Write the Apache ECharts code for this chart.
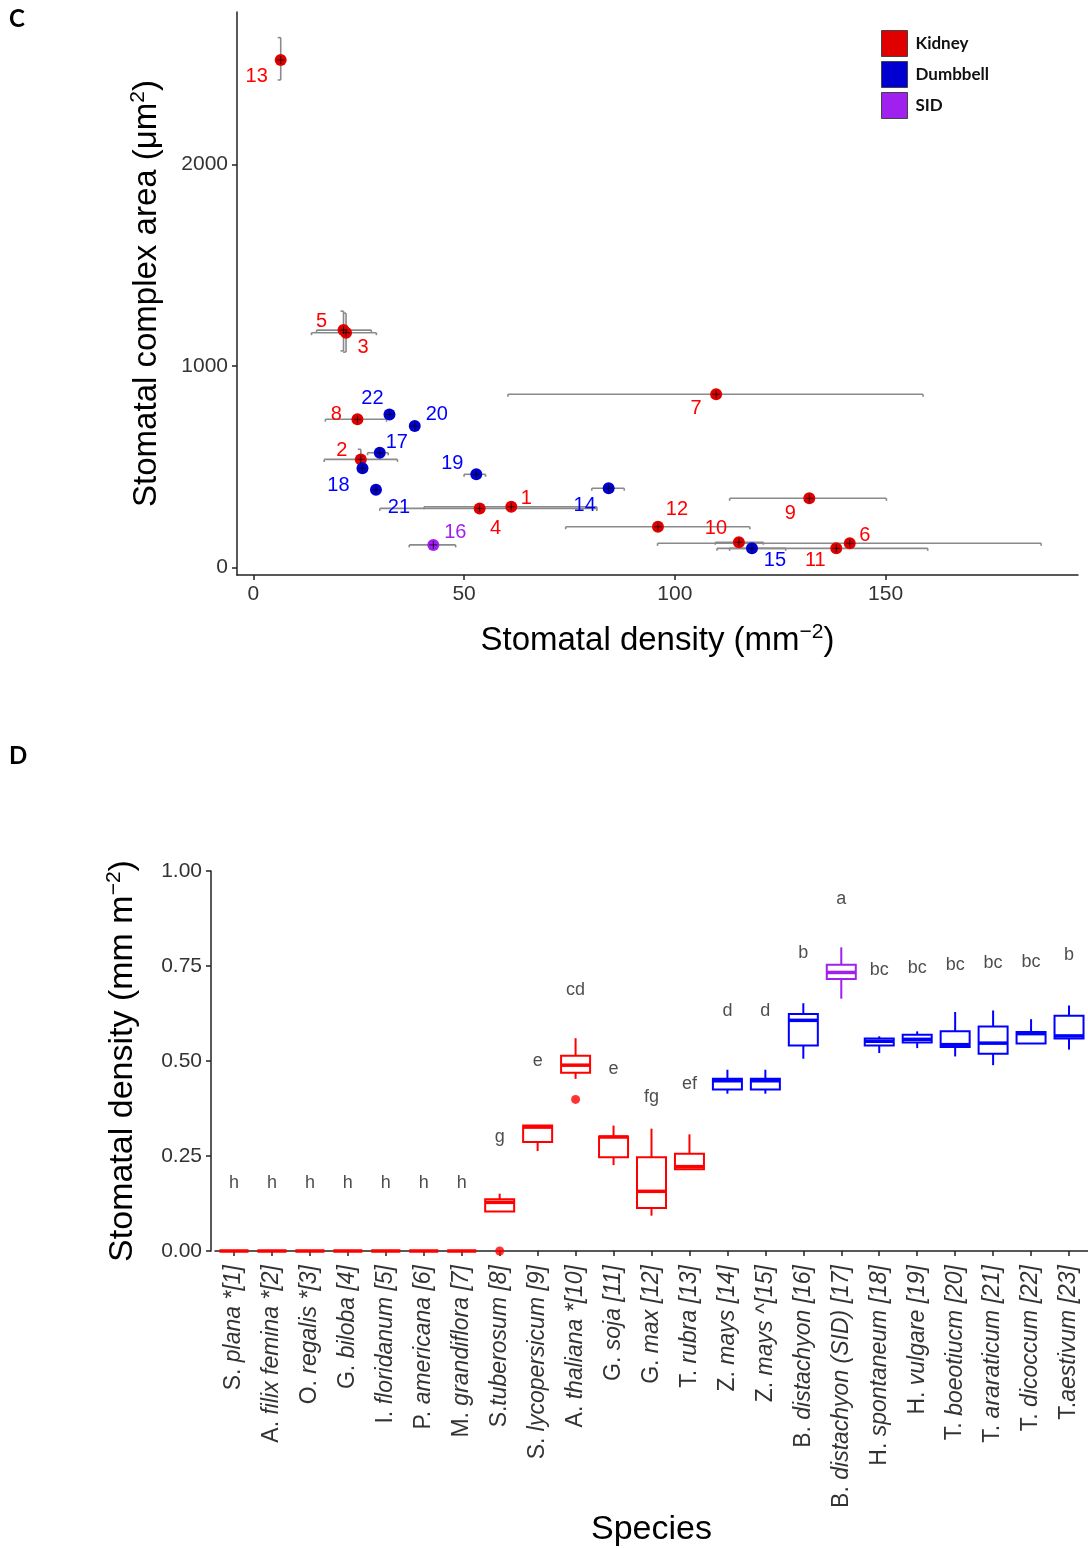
<!DOCTYPE html>
<html>
<head>
<meta charset="utf-8">
<script src="https://cdn.jsdelivr.net/npm/echarts@6/dist/echarts.min.js"></script>
<style>
html, body { margin: 0; padding: 0; background: #ffffff; }
#chart { width: 1088px; height: 1548px; }
</style>
</head>
<body>
<div id="chart"></div>
<script>
// ---------- Panel C: complex area vs stomatal density (mean ± range) ----------
const speciesIds   = [1, 2, 3, 4, 5, 6, 7, 8, 9, 10, 11, 12, 13, 14, 15, 16, 17, 18, 19, 20, 21, 22];
const stomataType  = ['Kidney', 'Kidney', 'Kidney', 'Kidney', 'Kidney', 'Kidney', 'Kidney', 'Kidney',
                      'Kidney', 'Kidney', 'Kidney', 'Kidney', 'Kidney', 'Dumbbell', 'Dumbbell', 'SID',
                      'Dumbbell', 'Dumbbell', 'Dumbbell', 'Dumbbell', 'Dumbbell', 'Dumbbell'];
const densityMean  = [61.2, 25.5, 22.0, 53.7, 21.4, 141.5, 109.8, 24.7, 131.9, 115.2, 138.3, 96.0,
                      6.5, 84.3, 118.3, 42.7, 30.0, 25.9, 52.9, 38.3, 29.1, 32.3];
const areaMean     = [302, 537, 1165, 294, 1178, 121, 860, 736, 344, 126, 96, 203,
                      2517, 394, 96, 113, 570, 493, 463, 702, 386, 760];
const densityLow   = [40.5, 16.8, 13.8, 30.0, 15.0, 95.9, 60.4, 17.1, 113.0, 109.6, 110.0, 74.1,
                      null, 80.3, 113.0, 37.0, 27.1, null, 50.0, null, null, null];
const densityHigh  = [81.5, 34.2, 29.2, 81.5, 28.0, 186.9, 158.9, 31.6, 150.2, 121.0, 160.0, 117.8,
                      null, 88.0, 126.3, 48.0, 32.0, null, 55.1, null, null, null];
const areaLow      = [null, 487, 1069, null, 1075, null, null, null, null, null, null, null,
                      2418, null, null, null, null, null, null, null, null, null];
const areaHigh     = [null, 587, 1262, null, 1272, null, null, null, null, null, null, null,
                      2628, null, null, null, null, null, null, null, null, null];
const densityTicks = [0, 50, 100, 150];
const areaTicks    = [0, 1000, 2000];

// ---------- Panel D: stomatal density per species (box summaries) ----------
const speciesNames = ['S. plana *[1]', 'A. filix femina *[2]', 'O. regalis *[3]', 'G. biloba [4]',
  'I. floridanum [5]', 'P. americana [6]', 'M. grandiflora [7]', 'S.tuberosum [8]',
  'S. lycopersicum [9]', 'A. thaliana *[10]', 'G. soja [11]', 'G. max [12]', 'T. rubra [13]',
  'Z. mays [14]', 'Z. mays ^[15]', 'B. distachyon [16]', 'B. distachyon (SID) [17]',
  'H. spontaneum [18]', 'H. vulgare [19]', 'T. boeotiucm [20]', 'T. araraticum [21]',
  'T. dicoccum [22]', 'T.aestivum [23]'];
const speciesType  = ['Kidney', 'Kidney', 'Kidney', 'Kidney', 'Kidney', 'Kidney', 'Kidney', 'Kidney',
  'Kidney', 'Kidney', 'Kidney', 'Kidney', 'Kidney', 'Dumbbell', 'Dumbbell', 'Dumbbell', 'SID',
  'Dumbbell', 'Dumbbell', 'Dumbbell', 'Dumbbell', 'Dumbbell', 'Dumbbell'];
const whiskerLow   = [0, 0, 0, 0, 0, 0, 0, 0.104, 0.263, 0.453, 0.226, 0.093, 0.215,
                      0.414, 0.414, 0.506, 0.664, 0.521, 0.534, 0.512, 0.489, 0.546, 0.530];
const quartile1    = [0, 0, 0, 0, 0, 0, 0, 0.104, 0.287, 0.469, 0.247, 0.113, 0.215,
                      0.425, 0.425, 0.541, 0.716, 0.541, 0.549, 0.537, 0.519, 0.546, 0.559];
const medianValue  = [0, 0, 0, 0, 0, 0, 0, 0.128, 0.326, 0.489, 0.300, 0.157, 0.222,
                      0.448, 0.448, 0.607, 0.733, 0.552, 0.557, 0.543, 0.547, 0.572, 0.566];
const quartile3    = [0, 0, 0, 0, 0, 0, 0, 0.136, 0.330, 0.514, 0.301, 0.247, 0.256,
                      0.453, 0.453, 0.624, 0.753, 0.559, 0.569, 0.578, 0.591, 0.576, 0.619];
const whiskerHigh  = [0, 0, 0, 0, 0, 0, 0, 0.151, 0.330, 0.560, 0.330, 0.322, 0.307,
                      0.477, 0.477, 0.652, 0.799, 0.565, 0.578, 0.629, 0.633, 0.610, 0.646];
const outlierIndex = [7, 9];
const outlierValue = [0.0, 0.399];
const groupLetters = ['h', 'h', 'h', 'h', 'h', 'h', 'h', 'g', 'e', 'cd', 'e', 'fg', 'ef',
                      'd', 'd', 'b', 'a', 'bc', 'bc', 'bc', 'bc', 'bc', 'b'];
const letterHeight = [0.178, 0.178, 0.178, 0.178, 0.178, 0.178, 0.178, 0.30, 0.50, 0.687, 0.48,
                      0.406, 0.44, 0.632, 0.632, 0.784, 0.926, 0.74, 0.745, 0.752, 0.757, 0.76, 0.778];

// ---------- styling ----------
const typeColor = { Kidney: '#FF0000', Dumbbell: '#0000FF', SID: '#A020F0' };
const pointColor = { Kidney: '#E00000', Dumbbell: '#0000D0', SID: '#A020F0' };
const labelNudge = {
  1: [15, -8], 2: [-19, -9], 3: [17, 15], 4: [16, 20], 5: [-22, -9], 6: [15, -8],
  7: [-20, 14], 8: [-21, -5], 9: [-19, 15], 10: [-23, -14], 11: [-21, 12], 12: [19, -17],
  13: [-24, 16], 14: [-24, 17], 15: [23, 12], 16: [22, -12], 17: [17, -10], 18: [-24, 17],
  19: [-24, -11], 20: [22, -12], 21: [23, 18], 22: [-17, -16]
};
const FONT = '"Liberation Sans", Arial, sans-serif';
const AX = '#222222';
const supStyle = { fontSize: 21, verticalAlign: 'top', padding: [0, 0, 16, 0], color: '#000', fontFamily: FONT };

const chart = echarts.init(document.getElementById('chart'), null, { renderer: 'canvas' });

// error bars for panel C
const errorData = speciesIds.map((id, i) => [
  densityMean[i], areaMean[i],
  densityLow[i] == null ? NaN : densityLow[i], densityHigh[i] == null ? NaN : densityHigh[i],
  areaLow[i] == null ? NaN : areaLow[i], areaHigh[i] == null ? NaN : areaHigh[i]
]);

function renderErrorBars(params, api) {
  const x = api.value(0), y = api.value(1);
  const xl = api.value(2), xh = api.value(3), yl = api.value(4), yh = api.value(5);
  const style = { stroke: '#8a8a8a', lineWidth: 1.6, fill: null };
  const children = [];
  const cap = 2.5;
  if (isFinite(xl) && isFinite(xh)) {
    const a = api.coord([xl, y]), b = api.coord([xh, y]);
    children.push({ type: 'line', shape: { x1: a[0], y1: a[1], x2: b[0], y2: b[1] }, style });
    children.push({ type: 'line', shape: { x1: a[0], y1: a[1], x2: a[0], y2: a[1] + cap }, style });
    children.push({ type: 'line', shape: { x1: b[0], y1: b[1], x2: b[0], y2: b[1] + cap }, style });
  }
  if (isFinite(yl) && isFinite(yh)) {
    const a = api.coord([x, yl]), b = api.coord([x, yh]);
    children.push({ type: 'line', shape: { x1: a[0], y1: a[1], x2: b[0], y2: b[1] }, style });
    children.push({ type: 'line', shape: { x1: a[0] - 3, y1: a[1], x2: a[0], y2: a[1] }, style });
    children.push({ type: 'line', shape: { x1: b[0] - 3, y1: b[1], x2: b[0], y2: b[1] }, style });
  }
  return { type: 'group', children };
}

function renderCrosses(params, api) {
  const p = api.coord([api.value(0), api.value(1)]);
  const s = { stroke: 'rgba(0,0,0,0.75)', lineWidth: 1 };
  return {
    type: 'group', children: [
      { type: 'line', shape: { x1: p[0] - 4, y1: p[1], x2: p[0] + 4, y2: p[1] }, style: s },
      { type: 'line', shape: { x1: p[0], y1: p[1] - 4, x2: p[0], y2: p[1] + 4 }, style: s }
    ]
  };
}

function typeSeries(typeName) {
  const data = [];
  speciesIds.forEach((id, i) => {
    if (stomataType[i] !== typeName) return;
    data.push({
      value: [densityMean[i], areaMean[i], id],
      label: { offset: labelNudge[id] }
    });
  });
  return {
    name: typeName, type: 'scatter', xAxisIndex: 0, yAxisIndex: 0, z: 3,
    symbol: 'circle', symbolSize: 12,
    itemStyle: { color: pointColor[typeName], opacity: 1 },
    label: {
      show: true, position: 'inside', formatter: p => String(p.value[2]),
      color: typeColor[typeName], fontSize: 20, fontFamily: FONT
    },
    emphasis: { disabled: true },
    data
  };
}

// box plot for panel D
const boxData = speciesNames.map((n, i) => [i, whiskerLow[i], quartile1[i], medianValue[i], quartile3[i], whiskerHigh[i]]);

function renderBox(params, api) {
  const c = api.value(0);
  const col = typeColor[speciesType[params.dataIndex]];
  const lo = api.coord([c, api.value(1)]);
  const q1 = api.coord([c, api.value(2)]);
  const md = api.coord([c, api.value(3)]);
  const q3 = api.coord([c, api.value(4)]);
  const hi = api.coord([c, api.value(5)]);
  const hw = 14.5;
  const s = { stroke: col, lineWidth: 2, fill: null };
  return {
    type: 'group', children: [
      { type: 'line', shape: { x1: lo[0], y1: lo[1], x2: q1[0], y2: q1[1] }, style: s },
      { type: 'line', shape: { x1: q3[0], y1: q3[1], x2: hi[0], y2: hi[1] }, style: s },
      { type: 'rect', shape: { x: q3[0] - hw, y: q3[1], width: hw * 2, height: Math.max(q1[1] - q3[1], 0) }, style: s },
      { type: 'line', shape: { x1: md[0] - hw, y1: md[1], x2: md[0] + hw, y2: md[1] }, style: { stroke: col, lineWidth: 3.5 } }
    ]
  };
}

function speciesLabel(v) {
  const m = v.match(/^([A-Z]\.\s?)(.*)$/);
  if (!m) return v;
  return '{n|' + m[1] + '}{i|' + m[2] + '}';
}

const option = {
  animation: false,
  backgroundColor: '#ffffff',
  textStyle: { fontFamily: FONT },
  graphic: [
    { type: 'text', left: 9, top: 7, style: { text: 'C', font: 'bold 24px Lato, "Open Sans", sans-serif', fill: '#000' } },
    { type: 'text', left: 9, top: 744, style: { text: 'D', font: 'bold 24px Lato, "Open Sans", sans-serif', fill: '#000' } }
  ],
  legend: {
    data: ['Kidney', 'Dumbbell', 'SID'],
    orient: 'vertical', left: 881, top: 30, padding: 0,
    itemWidth: 26, itemHeight: 26, itemGap: 4,
    icon: 'rect', selectedMode: false,
    itemStyle: { borderColor: '#444', borderWidth: 1 },
    textStyle: { fontFamily: 'Lato, "Open Sans", sans-serif', fontWeight: 'bold', fontSize: 17, color: '#111', padding: [0, 0, 0, 3] }
  },
  grid: [
    { left: 237, top: 12, width: 841, height: 563 },
    { left: 215, top: 871, width: 877, height: 381 }
  ],
  xAxis: [
    {
      gridIndex: 0, type: 'value', min: -3.87, max: 195.65,
      name: 'Stomatal density (mm{sup|\u22122})', nameLocation: 'middle', nameGap: 47,
      nameTextStyle: { fontSize: 33, color: '#000', fontFamily: FONT, rich: { sup: supStyle } },
      splitLine: { show: false },
      axisLine: { show: true, onZero: false, lineStyle: { color: AX, width: 1.5 } },
      axisTick: { show: true, customValues: densityTicks, length: 5, lineStyle: { color: AX, width: 1.5 } },
      axisLabel: { customValues: densityTicks, fontSize: 21, color: '#333', margin: 9, fontFamily: FONT, formatter: v => String(v) }
    },
    {
      gridIndex: 1, type: 'category', data: speciesNames, boundaryGap: true,
      name: 'Species', nameLocation: 'middle', nameGap: 262,
      nameTextStyle: { fontSize: 34, color: '#000', fontFamily: FONT },
      axisLine: { show: true, onZero: false, lineStyle: { color: AX, width: 1.5 } },
      axisTick: { show: true, alignWithLabel: true, length: 5, lineStyle: { color: AX, width: 1.5 } },
      axisLabel: {
        interval: 0, rotate: 90, margin: 14, formatter: speciesLabel,
        rich: {
          n: { fontSize: 23, color: '#333', fontFamily: FONT },
          i: { fontSize: 23, color: '#333', fontFamily: FONT, fontStyle: 'italic' }
        }
      }
    }
  ],
  yAxis: [
    {
      gridIndex: 0, type: 'value', min: -36.2, max: 2755,
      name: 'Stomatal complex area (\u03bcm{sup|2})', nameLocation: 'middle', nameGap: 72, nameRotate: 90,
      nameTextStyle: { fontSize: 33, color: '#000', fontFamily: FONT, rich: { sup: supStyle } },
      splitLine: { show: false },
      axisLine: { show: true, onZero: false, lineStyle: { color: AX, width: 1.5 } },
      axisTick: { show: true, customValues: areaTicks, length: 5, lineStyle: { color: AX, width: 1.5 } },
      axisLabel: { customValues: areaTicks, fontSize: 21, color: '#333', margin: 9, fontFamily: FONT, formatter: v => String(v) }
    },
    {
      gridIndex: 1, type: 'value', min: 0, max: 1, interval: 0.25, offset: 4,
      name: 'Stomatal density (mm m{sup|\u22122})', nameLocation: 'middle', nameGap: 70, nameRotate: 90,
      nameTextStyle: { fontSize: 34, color: '#000', fontFamily: FONT, rich: { sup: supStyle } },
      splitLine: { show: false },
      axisLine: { show: true, onZero: false, lineStyle: { color: AX, width: 1.5 } },
      axisTick: { show: true, length: 5, lineStyle: { color: AX, width: 1.5 } },
      axisLabel: { fontSize: 21, color: '#333', margin: 9, fontFamily: FONT, formatter: v => v.toFixed(2) }
    }
  ],
  series: [
    {
      type: 'custom', name: 'range', xAxisIndex: 0, yAxisIndex: 0, z: 1,
      renderItem: renderErrorBars, data: errorData, encode: { x: 0, y: 1 }, silent: true
    },
    typeSeries('Kidney'),
    typeSeries('Dumbbell'),
    typeSeries('SID'),
    {
      type: 'custom', name: 'centre', xAxisIndex: 0, yAxisIndex: 0, z: 4,
      renderItem: renderCrosses, data: errorData.map(d => [d[0], d[1]]), encode: { x: 0, y: 1 }, silent: true
    },
    {
      type: 'custom', name: 'boxes', xAxisIndex: 1, yAxisIndex: 1, z: 3,
      renderItem: renderBox, data: boxData, encode: { x: 0, y: [1, 5] }, silent: true
    },
    {
      type: 'scatter', name: 'outliers', xAxisIndex: 1, yAxisIndex: 1, z: 3, clip: false,
      symbolSize: 9, itemStyle: { color: '#FF0000' },
      data: outlierIndex.map((c, k) => [c, outlierValue[k]]), silent: true
    },
    {
      type: 'scatter', name: 'letters', xAxisIndex: 1, yAxisIndex: 1, z: 5,
      symbolSize: 0, silent: true,
      label: { show: true, position: 'inside', formatter: p => groupLetters[p.dataIndex], fontSize: 18, color: '#222', fontFamily: FONT },
      data: groupLetters.map((g, i) => [i, letterHeight[i]])
    }
  ]
};

chart.setOption(option);
</script>
</body>
</html>
